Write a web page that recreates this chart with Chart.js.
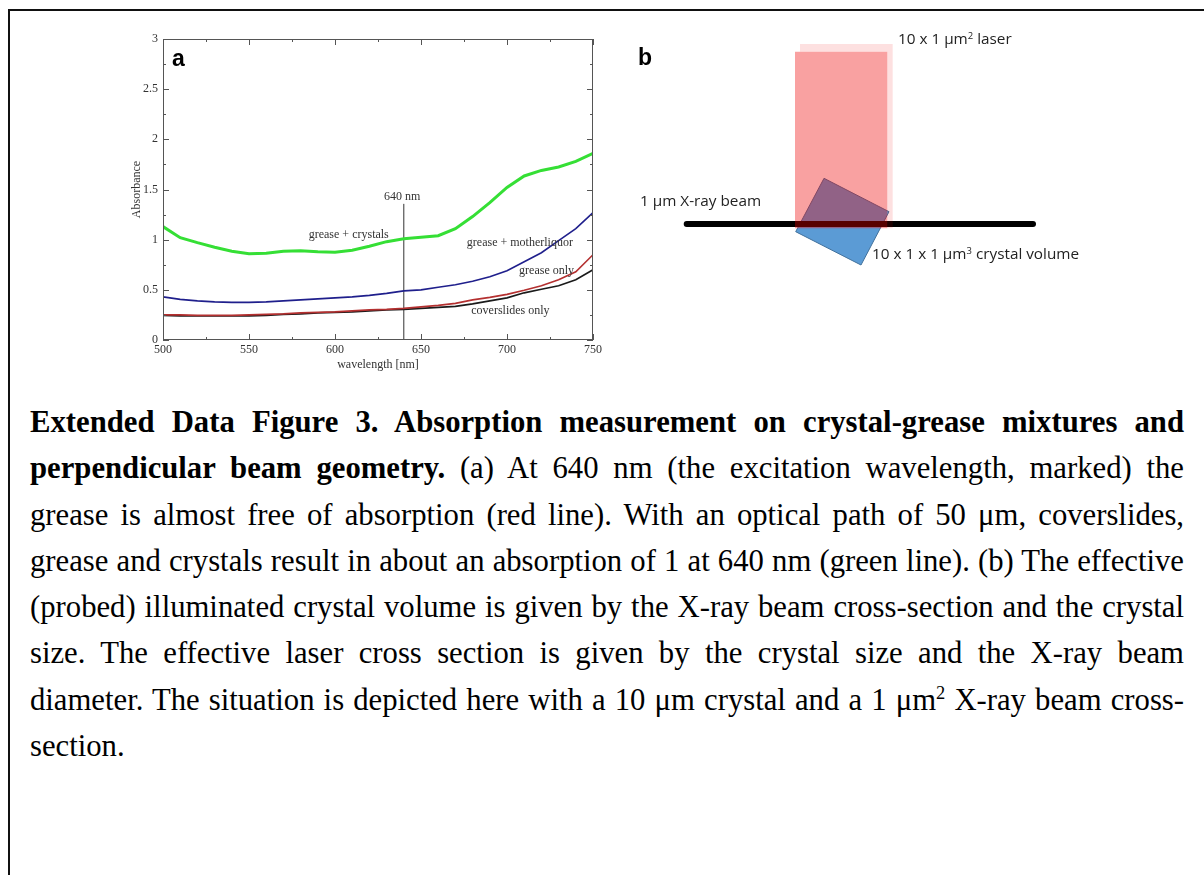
<!DOCTYPE html>
<html>
<head>
<meta charset="utf-8">
<script src="https://cdn.jsdelivr.net/npm/chart.js@4.4.1/dist/chart.umd.min.js"></script>
<style>
  html, body { margin: 0; padding: 0; background: #fff; }
  #page { position: relative; width: 1204px; height: 875px; overflow: hidden; }
  #frame { position: absolute; left: 8px; top: 9px; right: -10px; bottom: -10px;
           border-top: 2px solid #111; border-left: 2px solid #111; }
  canvas { position: absolute; }
  .panel { position: absolute; font-family: 'Liberation Sans', Arial, sans-serif; font-weight: bold; font-size: 23px; line-height: 24px; color: #000; }
  .note { position: absolute; font-family: 'Open Sans', 'Liberation Sans', sans-serif; font-size: 15.3px; line-height: 18px; color: #222; white-space: nowrap; }
  .note sup { font-size: 0.62em; vertical-align: 0.5em; line-height: 0; }
  #caption { position: absolute; left: 30px; top: 399px; width: 1154px;
             font-family: 'Liberation Serif', 'Times New Roman', serif; font-size: 30.7px; color: #000; }
  #caption div { height: 46.3px; line-height: 46.3px; white-space: nowrap;
                 text-align: justify; text-align-last: justify; }
  #caption div.last { text-align-last: left; }
  #caption sup { font-size: 0.6em; vertical-align: 0.6em; line-height: 0; }
</style>
</head>
<body>
<div id="page">
  <div id="frame"></div>

  <canvas id="absorb" width="490" height="350" style="left:120px; top:25px;"></canvas>
  <div class="panel" style="left:172px; top:46px;">a</div>

  <canvas id="geometry" width="480" height="260" style="left:620px; top:20px;"></canvas>
  <div class="panel" style="left:638px; top:45px;">b</div>
  <div class="note" style="left:898px; top:29px;">10 x 1 μm<sup>2</sup> laser</div>
  <div class="note" style="left:640px; top:191px;">1 μm X-ray beam</div>
  <div class="note" style="left:872px; top:244px;">10 x 1 x 1 μm<sup>3</sup> crystal volume</div>

  <div id="caption">
    <div><b>Extended Data Figure 3. Absorption measurement on crystal-grease mixtures and</b></div>
    <div><b>perpendicular beam geometry.</b> (a) At 640 nm (the excitation wavelength, marked) the</div>
    <div>grease is almost free of absorption (red line). With an optical path of 50 μm, coverslides,</div>
    <div>grease and crystals result in about an absorption of 1 at 640 nm (green line). (b) The effective</div>
    <div>(probed) illuminated crystal volume is given by the X-ray beam cross-section and the crystal</div>
    <div>size. The effective laser cross section is given by the crystal size and the X-ray beam</div>
    <div>diameter. The situation is depicted here with a 10 μm crystal and a 1 μm<sup>2</sup> X-ray beam cross-</div>
    <div class="last">section.</div>
  </div>
</div>

<script>
Chart.defaults.animation = false;

// ---- panel a : absorbance spectra ----
const wavelengths = [500, 510, 520, 530, 540, 550, 560, 570, 580, 590, 600, 610, 620,
                     630, 640, 650, 660, 670, 680, 690, 700, 710, 720, 730, 740, 750];
const greaseCrystals = [1.13, 1.02, 0.97, 0.925, 0.885, 0.86, 0.865, 0.885, 0.89, 0.88, 0.875, 0.895, 0.935,
                        0.98, 1.01, 1.025, 1.04, 1.11, 1.23, 1.37, 1.52, 1.635, 1.69, 1.725, 1.78, 1.86];
const greaseMotherliquor = [0.43, 0.405, 0.39, 0.38, 0.375, 0.375, 0.38, 0.39, 0.40, 0.41, 0.42, 0.43, 0.445,
                            0.465, 0.49, 0.50, 0.525, 0.55, 0.585, 0.63, 0.69, 0.78, 0.87, 0.99, 1.11, 1.27];
const greaseOnly = [0.25, 0.25, 0.245, 0.245, 0.245, 0.25, 0.255, 0.26, 0.27, 0.275, 0.28, 0.29, 0.30,
                    0.305, 0.315, 0.33, 0.345, 0.365, 0.40, 0.425, 0.455, 0.495, 0.54, 0.60, 0.68, 0.85];
const coverslidesOnly = [0.245, 0.24, 0.24, 0.24, 0.24, 0.24, 0.245, 0.255, 0.26, 0.27, 0.275, 0.28, 0.29,
                         0.30, 0.305, 0.315, 0.325, 0.335, 0.36, 0.39, 0.42, 0.47, 0.505, 0.54, 0.60, 0.70];
const excitation = [640, 640];
const excitationMark = [0, 1.357];

const xTicks = [500, 550, 600, 650, 700, 750];
const yTicks = [0, 0.5, 1, 1.5, 2, 2.5, 3];

const curveLabels = [
  { text: 'grease + crystals', x: 608, y: 1.05 },
  { text: 'grease + motherliquor', x: 707.5, y: 0.965 },
  { text: 'grease only', x: 723, y: 0.69 },
  { text: 'coverslides only', x: 702, y: 0.295 },
  { text: '640 nm', x: 639, y: 1.43 }
];

const serif = "'Liberation Serif', 'Times New Roman', serif";
const toPoints = (xs, ys) => xs.map((x, i) => ({ x: x, y: ys[i] }));

// inward tick marks on all four sides + grey frame
const frameTicks = {
  id: 'frameTicks',
  afterDraw(chart) {
    const { ctx, chartArea: { left, right, top, bottom }, scales: { x, y } } = chart;
    ctx.save();
    ctx.strokeStyle = '#555';
    ctx.lineWidth = 1;
    ctx.strokeRect(left + 0.5, top + 0.5, right - left - 1, bottom - top - 1);
    ctx.beginPath();
    for (let v = x.min, i = 0; v <= x.max; v += 25, i++) {
      const px = Math.round(x.getPixelForValue(v)) + 0.5;
      const len = i % 2 === 0 ? 6 : 3;
      ctx.moveTo(px, bottom); ctx.lineTo(px, bottom - len);
      ctx.moveTo(px, top); ctx.lineTo(px, top + len);
    }
    for (let v = y.min, i = 0; v <= y.max + 1e-9; v += 0.25, i++) {
      const py = Math.round(y.getPixelForValue(v)) + 0.5;
      const len = i % 2 === 0 ? 6 : 3;
      ctx.moveTo(left, py); ctx.lineTo(left + len, py);
      ctx.moveTo(right, py); ctx.lineTo(right - len, py);
    }
    ctx.stroke();
    ctx.restore();
  }
};

const curveText = {
  id: 'curveText',
  afterDatasetsDraw(chart) {
    const { ctx, scales: { x, y } } = chart;
    ctx.save();
    ctx.font = '12px ' + serif;
    ctx.fillStyle = '#333';
    ctx.textAlign = 'center';
    ctx.textBaseline = 'middle';
    curveLabels.forEach(l => ctx.fillText(l.text, x.getPixelForValue(l.x), y.getPixelForValue(l.y)));
    ctx.restore();
  }
};

const lineStyle = (color, width) => ({
  borderColor: color, backgroundColor: color, borderWidth: width,
  pointRadius: 0, showLine: true, fill: false, tension: 0
});

new Chart(document.getElementById('absorb').getContext('2d'), {
  type: 'scatter',
  data: {
    datasets: [
      { label: 'grease + crystals', data: toPoints(wavelengths, greaseCrystals), ...lineStyle('#35df35', 3) },
      { label: 'grease + motherliquor', data: toPoints(wavelengths, greaseMotherliquor), ...lineStyle('#1f1f8c', 1.6) },
      { label: 'grease only', data: toPoints(wavelengths, greaseOnly), ...lineStyle('#b43030', 1.6) },
      { label: 'coverslides only', data: toPoints(wavelengths, coverslidesOnly), ...lineStyle('#1a1a1a', 1.6) },
      { label: '640 nm', data: toPoints(excitation, excitationMark), ...lineStyle('#333', 1) }
    ]
  },
  options: {
    responsive: false,
    layout: { padding: { top: 14, right: 17, left: 0, bottom: 0 } },
    plugins: { legend: { display: false }, tooltip: { enabled: false } },
    scales: {
      x: {
        type: 'linear', min: 500, max: 750,
        afterBuildTicks: s => { s.ticks = xTicks.map(v => ({ value: v })); },
        afterFit: s => { s.height = 35; },
        ticks: { font: { family: serif, size: 12 }, color: '#333', padding: 3, maxRotation: 0 },
        grid: { display: false, drawTicks: false },
        border: { display: false },
        title: { display: true, text: 'wavelength [nm]', font: { family: serif, size: 12 }, color: '#333', padding: { top: 0, bottom: 3 } }
      },
      y: {
        min: 0, max: 3,
        afterBuildTicks: s => { s.ticks = yTicks.map(v => ({ value: v })); },
        afterFit: s => { s.width = 43; },
        ticks: { font: { family: serif, size: 12 }, color: '#333', padding: 5, callback: v => String(v) },
        grid: { display: false, drawTicks: false },
        border: { display: false },
        title: { display: true, text: 'Absorbance', font: { family: serif, size: 12 }, color: '#333', padding: { top: 10, bottom: 0 } }
      }
    }
  },
  plugins: [frameTicks, curveText]
});

// ---- panel b : beam geometry sketch (outline vertices in sketch units) ----
const laserBeam = [[175, 31.7], [267.3, 31.7], [267.3, 208.3], [175, 208.3], [175, 31.7]];
const laserGlow = [[180, 24], [272.7, 24], [272.7, 208.3], [267.3, 208.3], [267.3, 31.7], [180, 31.7], [180, 24]];
const xrayBeam = [[66.7, 204], [413, 204]];
const crystalVolume = [[204, 158.3], [269, 191.7], [241, 245], [175.7, 211.7], [204, 158.3]];

const asXY = pts => pts.map(p => ({ x: p[0], y: p[1] }));

// first dataset is painted last (on top)
new Chart(document.getElementById('geometry').getContext('2d'), {
  type: 'scatter',
  data: {
    datasets: [
      { data: asXY(laserBeam), showLine: true, pointRadius: 0, borderWidth: 0, fill: 'shape', backgroundColor: 'rgba(240,0,0,0.37)', borderColor: 'rgba(0,0,0,0)' },
      { data: asXY(laserGlow), showLine: true, pointRadius: 0, borderWidth: 0, fill: 'shape', backgroundColor: 'rgba(240,0,0,0.12)', borderColor: 'rgba(0,0,0,0)' },
      { data: asXY(xrayBeam), showLine: true, pointRadius: 0, borderWidth: 6, borderColor: '#000', borderCapStyle: 'round', fill: false },
      { data: asXY(crystalVolume), showLine: true, pointRadius: 0, borderWidth: 1, fill: 'shape', backgroundColor: '#5b9bd5', borderColor: '#41719c' }
    ]
  },
  options: {
    responsive: false,
    layout: { padding: 0 },
    plugins: { legend: { display: false }, tooltip: { enabled: false } },
    scales: {
      x: { type: 'linear', min: 0, max: 480, display: false },
      y: { type: 'linear', min: 0, max: 260, reverse: true, display: false }
    }
  }
});
</script>
</body>
</html>
